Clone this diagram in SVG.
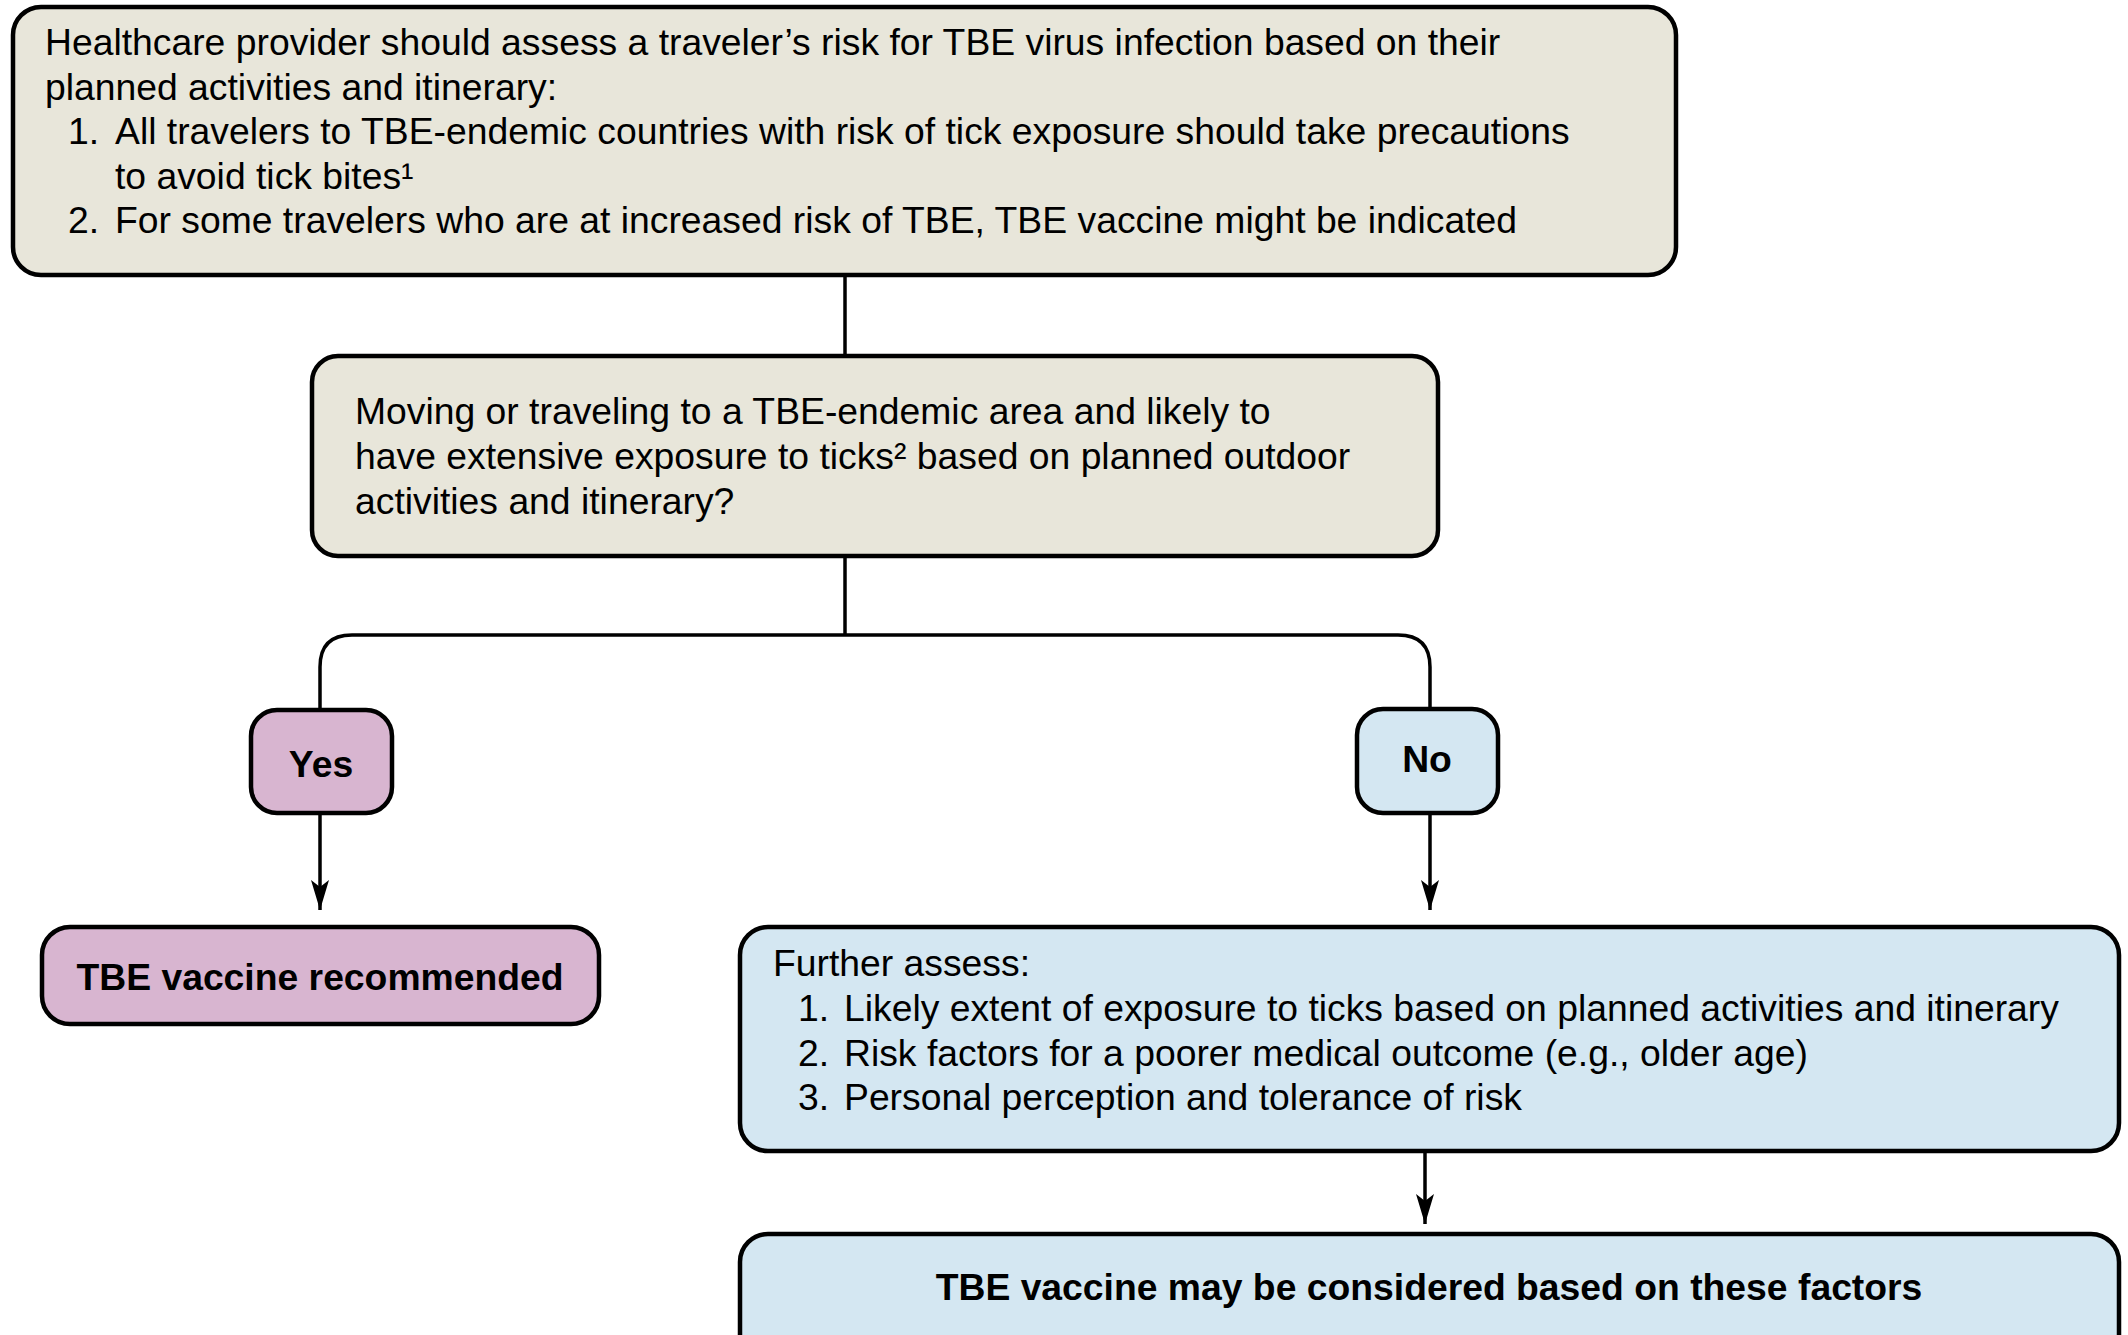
<svg xmlns="http://www.w3.org/2000/svg" width="2128" height="1335" viewBox="0 0 2128 1335">
<style>
.box{stroke:#000;stroke-width:4.5}
.beige{fill:#E8E6DA}
.pink{fill:#D8B5D0}
.blue{fill:#D4E7F2}
.t{font-family:"Liberation Sans",Arial,sans-serif;font-size:37.3px;fill:#000}
.b{font-family:"Liberation Sans",Arial,sans-serif;font-size:37.3px;font-weight:bold;fill:#000}
.c{fill:none;stroke:#000;stroke-width:3.5}
</style>
<defs>
<marker id="ah" markerUnits="userSpaceOnUse" markerWidth="34" markerHeight="22" viewBox="-32 -11 34 22" refX="0" refY="0" orient="auto" overflow="visible">
<path d="M0 0 L-30 -9 L-23 0 L-30 9 Z" fill="#000"/>
</marker>
</defs>
<rect width="2128" height="1335" fill="#fff"/>
<g id="connectors">
<path class="c" d="M845 275 V357"/>
<path class="c" d="M845 557 V635"/>
<path class="c" d="M320 710 V667 Q320 635 352 635 H1398 Q1430 635 1430 667 V710"/>
<path class="c" d="M320 813 V910" marker-end="url(#ah)"/>
<path class="c" d="M1430 813 V910" marker-end="url(#ah)"/>
<path class="c" d="M1425 1151 V1224" marker-end="url(#ah)"/>
</g>
<g id="node-assess">
<rect class="box beige" x="13" y="7" width="1663" height="268" rx="28"/>
<text class="t" x="45" y="55">Healthcare provider should assess a traveler’s risk for TBE virus infection based on their</text>
<text class="t" x="45" y="100">planned activities and itinerary:</text>
<text class="t" x="68" y="144">1.</text>
<text class="t" x="115" y="144">All travelers to TBE-endemic countries with risk of tick exposure should take precautions</text>
<text class="t" x="115" y="189">to avoid tick bites¹</text>
<text class="t" x="68" y="233">2.</text>
<text class="t" x="115" y="233">For some travelers who are at increased risk of TBE, TBE vaccine might be indicated</text>
</g>
<g id="node-question">
<rect class="box beige" x="312" y="356" width="1126" height="200" rx="26"/>
<text class="t" x="355" y="424">Moving or traveling to a TBE-endemic area and likely to</text>
<text class="t" x="355" y="469">have extensive exposure to ticks² based on planned outdoor</text>
<text class="t" x="355" y="514">activities and itinerary?</text>
</g>
<g id="node-yes">
<rect class="box pink" x="251" y="710" width="141" height="103" rx="26"/>
<text class="b" x="321" y="777" text-anchor="middle">Yes</text>
</g>
<g id="node-no">
<rect class="box blue" x="1357" y="709" width="141" height="104" rx="26"/>
<text class="b" x="1427" y="772" text-anchor="middle">No</text>
</g>
<g id="node-recommended">
<rect class="box pink" x="42" y="927" width="557" height="97" rx="28"/>
<text class="b" x="320" y="990" text-anchor="middle">TBE vaccine recommended</text>
</g>
<g id="node-further">
<rect class="box blue" x="740" y="927" width="1379" height="224" rx="28"/>
<text class="t" x="773" y="976">Further assess:</text>
<text class="t" x="798" y="1021">1.</text>
<text class="t" x="844" y="1021">Likely extent of exposure to ticks based on planned activities and itinerary</text>
<text class="t" x="798" y="1066">2.</text>
<text class="t" x="844" y="1066">Risk factors for a poorer medical outcome (e.g., older age)</text>
<text class="t" x="798" y="1110">3.</text>
<text class="t" x="844" y="1110">Personal perception and tolerance of risk</text>
</g>
<g id="node-considered">
<rect class="box blue" x="740" y="1234" width="1379" height="140" rx="28"/>
<text class="b" x="1429" y="1300" text-anchor="middle">TBE vaccine may be considered based on these factors</text>
</g>
</svg>
